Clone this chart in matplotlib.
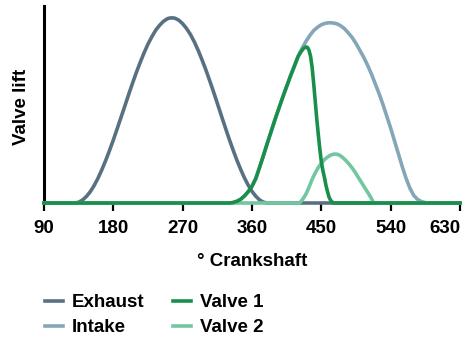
import numpy as np
import matplotlib
matplotlib.use("Agg")
import matplotlib.pyplot as plt

plt.rcParams['font.family'] = ['Liberation Sans', 'DejaVu Sans']
plt.rcParams['font.weight'] = 'bold'

# values (degrees crankshaft, relative lift)
exhaust_deg = [90, 130, 135, 140, 145, 150, 155, 160, 165, 170, 175, 180, 185, 190, 195, 200, 205,
               210, 215, 220, 225, 230, 235, 240, 245, 250, 252, 256, 260, 265, 270, 275, 280, 285,
               290, 295, 300, 305, 310, 315, 320, 325, 330, 335, 340, 345, 350, 355, 360, 365, 370,
               375, 380, 630]
exhaust_lift = [0, 0, 0.004, 0.015, 0.033, 0.057, 0.088, 0.125, 0.168, 0.215, 0.266, 0.32, 0.377,
                0.435, 0.493, 0.552, 0.609, 0.664, 0.715, 0.763, 0.807, 0.844, 0.877, 0.902, 0.922,
                0.935, 0.938, 0.94, 0.938, 0.928, 0.91, 0.886, 0.856, 0.819, 0.776, 0.728, 0.677,
                0.622, 0.565, 0.506, 0.446, 0.387, 0.329, 0.274, 0.221, 0.173, 0.129, 0.091, 0.059,
                0.034, 0.015, 0.004, 0, 0]

intake_deg = [90, 330, 335, 340, 345, 350, 355, 360, 365, 370, 375, 380, 385, 390, 395, 400, 405,
              410, 415, 420, 425, 430, 435, 440, 445, 450, 455, 460, 465, 470, 475, 480, 485, 490,
              495, 500, 505, 510, 515, 520, 525, 530, 535, 540, 545, 550, 555, 560, 565, 570, 575,
              580, 585, 590, 630]
intake_lift = [0, 0, 0.002, 0.008, 0.018, 0.035, 0.057, 0.085, 0.125, 0.183, 0.243, 0.305, 0.365,
               0.425, 0.482, 0.538, 0.592, 0.645, 0.695, 0.745, 0.785, 0.82, 0.85, 0.875, 0.892,
               0.905, 0.912, 0.915, 0.914, 0.91, 0.9, 0.885, 0.864, 0.84, 0.81, 0.775, 0.74, 0.70,
               0.655, 0.605, 0.555, 0.50, 0.44, 0.38, 0.315, 0.25, 0.185, 0.125, 0.075, 0.038,
               0.018, 0.007, 0.002, 0, 0]

valve1_deg = [90, 330, 335, 340, 345, 350, 355, 360, 365, 370, 375, 380, 385, 390, 395, 400, 405,
              410, 415, 420, 424, 427, 430, 432, 434, 436, 438, 440, 442, 444, 446, 448, 450, 452,
              454, 456, 458, 460, 462, 464, 466, 630]
valve1_lift = [0, 0, 0.002, 0.008, 0.018, 0.035, 0.057, 0.085, 0.125, 0.183, 0.243, 0.305, 0.365,
               0.425, 0.482, 0.538, 0.592, 0.645, 0.695, 0.745, 0.77, 0.785, 0.792, 0.79, 0.775,
               0.745, 0.69, 0.61, 0.52, 0.43, 0.35, 0.275, 0.21, 0.165, 0.13, 0.09, 0.058, 0.03,
               0.014, 0.005, 0, 0]

valve2_deg = [90, 422, 426, 430, 434, 438, 442, 446, 450, 454, 458, 462, 466, 470, 474, 478, 482,
              486, 490, 494, 498, 502, 506, 510, 514, 518, 630]
valve2_lift = [0, 0, 0.02, 0.045, 0.08, 0.12, 0.152, 0.18, 0.202, 0.22, 0.233, 0.243, 0.248, 0.248,
               0.242, 0.23, 0.215, 0.198, 0.178, 0.155, 0.13, 0.105, 0.08, 0.055, 0.03, 0, 0]

x_ticks = [90, 180, 270, 360, 450, 540, 630]

c_exhaust = '#587182'
c_intake = '#85a6b9'
c_valve1 = '#1a8f4c'
c_valve2 = '#72c7a0'

fig = plt.figure(figsize=(4.65, 3.4), dpi=100)
ax = fig.add_axes([44 / 465, 1 - 203 / 340, 416 / 465, 197 / 340])

lw = 2.6
ax.plot(intake_deg, intake_lift, color=c_intake, lw=lw, label='Intake', zorder=1, clip_on=False)
ax.plot(exhaust_deg, exhaust_lift, color=c_exhaust, lw=lw, label='Exhaust', zorder=2, clip_on=False)
ax.plot(valve2_deg, valve2_lift, color=c_valve2, lw=lw, label='Valve 2', zorder=3, clip_on=False)
ax.plot(valve1_deg, valve1_lift, color=c_valve1, lw=lw, label='Valve 1', zorder=4, clip_on=False)

ax.set_xlim(90, 630)
ax.set_ylim(0, 1)
ax.set_xticks(x_ticks)
ax.set_yticks([])
for side in ['top', 'right', 'bottom']:
    ax.spines[side].set_visible(False)
ax.spines['left'].set_linewidth(2.2)
ax.spines['left'].set_color('black')
ax.tick_params(axis='x', direction='out', length=6, width=1.6, pad=6,
               labelsize=13.5, colors='black')
for lbl in ax.get_xticklabels():
    lbl.set_fontweight('bold')
# last label kept inside the figure, as in the reference
ax.get_xticklabels()[-1].set_horizontalalignment('right')
ax.get_xticklabels()[-1].set_x(632)

fig.text(21.5 / 465, 1 - 107 / 340, 'Valve lift', rotation=90, ha='center', va='center',
         fontsize=13.5, fontweight='bold')
fig.text(252 / 465, 1 - 262 / 340, '° Crankshaft', ha='center', va='center',
         fontsize=13.5, fontweight='bold')

handles, labels = ax.get_legend_handles_labels()
order = ['Exhaust', 'Intake', 'Valve 1', 'Valve 2']
hmap = dict(zip(labels, handles))
fig.legend([hmap[k] for k in order], order, ncol=2, loc='upper left',
           bbox_to_anchor=(45 / 465, 1 - 294 / 340), frameon=False,
           borderpad=0, borderaxespad=0, handlelength=0.95, handletextpad=0.5,
           labelspacing=0.42, columnspacing=1.5,
           prop={'size': 13.5, 'weight': 'bold'})

fig.savefig('out.png', dpi=100)
